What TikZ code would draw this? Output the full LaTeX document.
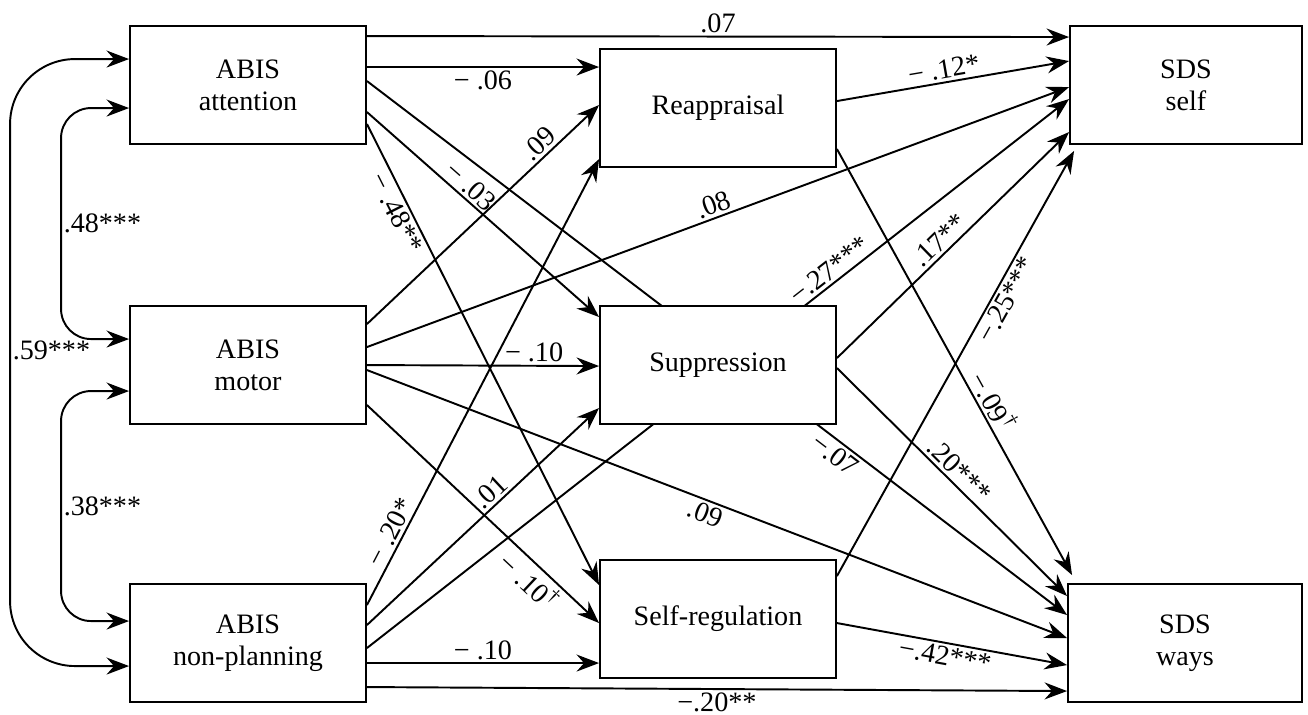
\documentclass[tikz,border=0pt]{standalone}
\usepackage{fontspec}
\setmainfont{Liberation Serif}
\usetikzlibrary{arrows.meta,calc,backgrounds}

\tikzset{
  box/.style={draw, fill=white, line width=1.1pt, minimum width=4.72cm, minimum height=2.36cm, align=center, inner sep=0pt},
  link/.style={-{Stealth[length=0.45cm, width=0.34cm, inset=0.15cm]}, line width=1.1pt},
  cov/.style={{Stealth[length=0.45cm, width=0.34cm, inset=0.15cm]}-{Stealth[length=0.45cm, width=0.34cm, inset=0.15cm]}, line width=1.1pt, rounded corners=0.6cm},
  coef/.style={sloped, inner sep=1.5pt}
}

\begin{document}
\begin{tikzpicture}[x=0.02cm, y=-0.02cm, font=\fontsize{16}{18.2}\selectfont]
    \useasboundingbox (0,0) rectangle (1308,714);

    % ABIS scales (left column)
    \node[box] (att) at (248,85) {ABIS\\attention};
    \node[box] (mot) at (248,365) {ABIS\\motor};
    \node[box] (npl) at (248,643) {ABIS\\non-planning};

    % Emotion regulation (middle column)
    \node[box] (rea) at (718,108) {Reappraisal};
    \node[box] (sup) at (718,365) {Suppression};
    \node[box] (srg) at (718,619) {Self-regulation};

    % SDS outcomes (right column)
    \node[box, minimum width=4.64cm] (self) at (1186,85) {SDS\\self};
    \node[box, minimum width=4.68cm] (ways) at (1185,643) {SDS\\ways};

    \begin{scope}[on background layer]
        % Paths from ABIS attention
        \draw[link] ($(att.north east)+(0,11)$) -- node[coef, above] {.07} ($(self.north west)+(0,12)$);
        \draw[link] ($(att.north east)+(0,42)$) -- node[coef, below] {− .06} ($(rea.north west)+(0,19)$);
        \draw[link] ($(att.north east)+(0,56)$) -- node[coef, below, pos=.68] {−.07} ($(ways.north west)+(0,32)$);
        \draw[link] ($(att.north east)+(0,87)$) -- node[coef, above, pos=.41] {− .03} ($(sup.north west)+(0,12)$);
        \draw[link] ($(att.north east)+(0,99)$) -- node[coef, below, pos=.18] {− .48**} ($(srg.north west)+(0,26)$);

        % Paths from ABIS motor
        \draw[link] ($(mot.north east)+(0,19)$) -- node[coef, above, pos=.78] {.09} ($(rea.north west)+(0,57)$);
        \draw[link] ($(mot.north east)+(0,42)$) -- node[coef, above, pos=.5] {.08} ($(self.north west)+(0,62)$);
        \draw[link] ($(mot.north east)+(0,60)$) -- node[coef, above, pos=.72] {− .10} ($(sup.north west)+(0,61)$);
        \draw[link] ($(mot.north east)+(0,65)$) -- node[coef, below, pos=.49] {.09} ($(ways.north west)+(0,55)$);
        \draw[link] ($(mot.north east)+(0,100)$) -- node[coef, below, pos=.75] {− .10\textsuperscript{†}} ($(srg.north west)+(0,64)$);

        % Paths from ABIS non-planning
        \draw[link] ($(npl.north east)+(0,22)$) -- node[coef, above, pos=.15] {− .20*} ($(rea.north west)+(0,111)$);
        \draw[link] ($(npl.north east)+(0,42)$) -- node[coef, above, pos=.57] {.01} ($(sup.north west)+(0,103)$);
        \draw[link] ($(npl.north east)+(0,65)$) -- node[coef, above, pos=.67] {−.27***} ($(self.north west)+(0,74)$);
        \draw[link] ($(npl.north east)+(0,80)$) -- node[coef, above] {− .10} ($(srg.north west)+(0,104)$);
        \draw[link] ($(npl.north east)+(0,104)$) -- node[coef, below] {−.20**} ($(ways.north west)+(0,108)$);

        % Paths from the mediators
        \draw[link] ($(rea.north east)+(0,53)$) -- node[coef, above, pos=.47] {− .12*} ($(self.north west)+(0,36)$);
        \draw[link] ($(rea.north east)+(0,101)$) -- node[coef, above, pos=.61] {−.09\textsuperscript{†}} ($(ways.north west)+(5,-8)$);
        \draw[link] ($(sup.north east)+(0,53)$) -- node[coef, above, pos=.48] {.17**} ($(self.north west)+(0,107)$);
        \draw[link] ($(sup.north east)+(0,63)$) -- node[coef, above, pos=.49] {.20***} ($(ways.north west)+(0,13)$);
        \draw[link] ($(srg.north east)+(0,17)$) -- node[coef, below, pos=.665] {−.25***} ($(self.south west)+(5,6)$);
        \draw[link] ($(srg.north east)+(0,64)$) -- node[coef, below, pos=.48] {−.42***} ($(ways.north west)+(0,82)$);
    \end{scope}

    % Correlations between the ABIS scales
    \draw[cov, rounded corners=1.3cm] ($(att.north west)+(0,34)$) -- ++(-119,0) |- node[pos=.24, right, inner sep=1pt] {.59***} ($(npl.north west)+(0,83)$);
    \draw[cov] ($(att.north west)+(0,83)$) -- ++(-68,0) |- node[pos=.25, right, inner sep=1pt] {.48***} ($(mot.north west)+(0,34)$);
    \draw[cov] ($(mot.north west)+(0,86)$) -- ++(-68,0) |- node[pos=.25, right, inner sep=1pt] {.38***} ($(npl.north west)+(0,38)$);
\end{tikzpicture}
\end{document}
